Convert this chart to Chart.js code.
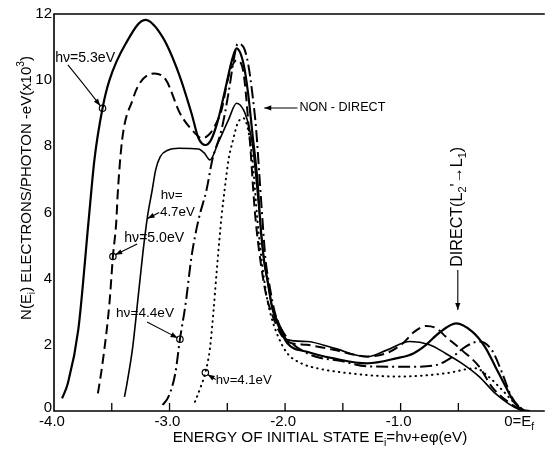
<!DOCTYPE html>
<html>
<head>
<meta charset="utf-8">
<script src="https://cdn.jsdelivr.net/npm/chart.js@4/dist/chart.umd.min.js"></script>
<style>
html,body{margin:0;padding:0;background:#fff;}
canvas{display:block;}
</style>
</head>
<body>
<canvas id="c" width="550" height="453"></canvas>
<script>
// ---- data (x: energy of initial state, eV; y: N(Ei), electrons/photon-eV x10^3) ----
const energy53 = [-3.93,-3.88,-3.79,-3.70,-3.65,-3.58,-3.52,-3.38,-3.21,-3.06,-2.92,-2.81,-2.75,-2.69,-2.64,-2.58,-2.51,-2.46,-2.42,-2.36,-2.32,-2.28,-2.24,-2.21,-2.18,-2.15,-2.11,-2.06,-1.98,-1.81,-1.58,-1.29,-1.04,-0.89,-0.78,-0.67,-0.52,-0.38,-0.27,-0.18,-0.09,-0.01,0.06,0.12];
const yield53  = [0.38,0.84,2.45,5.77,7.6,9.15,10.0,11.1,11.82,11.3,10.2,9.0,8.25,8.04,8.2,8.8,9.85,10.6,10.96,10.5,9.6,8.3,7.0,5.5,4.5,3.9,3.1,2.6,2.05,1.79,1.59,1.44,1.59,1.74,2.0,2.35,2.65,2.4,1.94,1.34,0.73,0.23,0.03,0];

const energy50 = [-3.62,-3.58,-3.52,-3.49,-3.46,-3.45,-3.41,-3.32,-3.26,-3.13,-3.03,-2.91,-2.78,-2.72,-2.66,-2.61,-2.55,-2.49,-2.42,-2.37,-2.31,-2.26,-2.21,-2.16,-2.11,-2.05,-1.98,-1.81,-1.58,-1.29,-1.12,-0.98,-0.88,-0.78,-0.69,-0.61,-0.47,-0.32,-0.21,-0.09,0.02,0.08];
const yield50  = [0.53,1.44,3.26,4.67,5.77,6.48,8.2,9.4,9.9,10.2,10.0,9.0,8.4,8.24,8.35,8.6,9.1,10.1,10.6,10.4,8.4,5.97,4.46,3.45,2.9,2.4,2.1,2.0,1.85,1.65,1.75,2.05,2.4,2.57,2.5,2.25,1.84,1.34,0.73,0.33,0.08,0];

const energy47 = [-3.39,-3.37,-3.32,-3.27,-3.23,-3.19,-3.15,-3.12,-3.08,-3.01,-2.92,-2.75,-2.70,-2.65,-2.58,-2.49,-2.42,-2.36,-2.32,-2.28,-2.25,-2.21,-2.18,-2.15,-2.11,-2.06,-1.98,-1.81,-1.58,-1.29,-1.12,-0.92,-0.75,-0.61,-0.47,-0.32,-0.18,-0.07,0.03,0.09];
const yield47  = [0.43,0.8,1.9,3.5,4.8,5.9,6.68,7.29,7.69,7.89,7.94,7.92,7.8,7.59,8.1,8.8,9.3,9.1,8.7,8.0,7.0,5.5,4.5,3.9,3.1,2.7,2.15,2.1,1.9,1.64,1.84,2.1,2.0,1.74,1.44,1.04,0.53,0.23,0.04,0];

const energy44 = [-3.06,-3.01,-2.95,-2.91,-2.86,-2.81,-2.75,-2.68,-2.63,-2.55,-2.49,-2.44,-2.41,-2.36,-2.32,-2.28,-2.25,-2.22,-2.19,-2.17,-2.13,-2.09,-2.02,-1.81,-1.50,-1.29,-1.04,-0.87,-0.69,-0.55,-0.44,-0.32,-0.21,-0.12,-0.04,0.05,0.09];
const yield44  = [0.18,0.43,1.14,2.17,3.26,4.66,5.77,6.68,7.59,8.5,9.6,10.7,11.1,11.0,10.5,9.5,8.5,7.0,5.5,4.6,3.7,3.0,2.4,1.75,1.5,1.35,1.34,1.34,1.39,1.64,1.94,2.1,1.84,1.14,0.43,0.06,0];

const energy41 = [-2.78,-2.73,-2.69,-2.65,-2.62,-2.59,-2.55,-2.52,-2.49,-2.45,-2.41,-2.36,-2.32,-2.28,-2.24,-2.19,-2.15,-2.12,-2.06,-1.98,-1.86,-1.72,-1.44,-1.01,-0.61,-0.35,-0.24,-0.12,-0.01,0.08];
const yield41  = [0.28,0.73,1.16,1.9,3.0,4.3,5.87,6.78,7.59,8.2,8.7,8.85,8.5,7.5,5.8,4.2,3.3,2.85,2.25,1.74,1.44,1.29,1.14,1.04,1.14,1.29,1.04,0.63,0.23,0];

// open-circle markers where the labels point
const markerEnergy = [-3.58,-3.49,-2.91,-2.69];
const markerYield  = [9.15,4.67,2.17,1.16];

// axis ticks
const xMajorTicks = [-4,-3,-2,-1];
const xMajorLabels = ['-4.0','-3.0','-2.0','-1.0'];
const xMinorTicks = [-3.5,-3,-2.5,-2,-1.5,-1,-0.5];
const yTicks = [0,2,4,6,8,10,12];

const FONT = '"Liberation Sans", Arial, Helvetica, sans-serif';

function pts(xs, ys){ return xs.map((x,i)=>({x:x, y:ys[i]})); }

function richWidth(ctx, parts, size){
  let w = 0;
  for (const p of parts){
    const s = p[1] ? size*0.68 : size;
    ctx.font = s + 'px ' + FONT;
    w += ctx.measureText(p[0]).width;
  }
  return w;
}
function drawRich(ctx, parts, x, y, o){
  let size = o.size;
  if (o.width){ size = size * o.width / richWidth(ctx, parts, size); }
  const w = richWidth(ctx, parts, size);
  ctx.save();
  ctx.translate(x, y);
  if (o.rotate) ctx.rotate(o.rotate);
  let cx = o.align === 'center' ? -w/2 : (o.align === 'right' ? -w : 0);
  ctx.textBaseline = 'middle';
  ctx.textAlign = 'left';
  ctx.fillStyle = '#000';
  for (const p of parts){
    const s = p[1] ? size*0.68 : size;
    ctx.font = s + 'px ' + FONT;
    const dy = p[1] === 'sub' ? size*0.32 : (p[1] === 'sup' ? -size*0.38 : 0);
    ctx.fillText(p[0], cx, dy);
    cx += ctx.measureText(p[0]).width;
  }
  ctx.restore();
}
function arrowHead(ctx, x1, y1, x2, y2, len, wid){
  const a = Math.atan2(y2-y1, x2-x1);
  ctx.beginPath();
  ctx.moveTo(x2, y2);
  ctx.lineTo(x2 - len*Math.cos(a) + wid*Math.sin(a), y2 - len*Math.sin(a) - wid*Math.cos(a));
  ctx.lineTo(x2 - len*Math.cos(a) - wid*Math.sin(a), y2 - len*Math.sin(a) + wid*Math.cos(a));
  ctx.closePath();
  ctx.fill();
}
function arrow(ctx, x1, y1, x2, y2, cpx, cpy){
  ctx.beginPath();
  ctx.moveTo(x1, y1);
  if (cpx !== undefined) ctx.quadraticCurveTo(cpx, cpy, x2, y2); else ctx.lineTo(x2, y2);
  ctx.stroke();
  if (cpx !== undefined) arrowHead(ctx, cpx, cpy, x2, y2, 7, 2.6);
  else arrowHead(ctx, x1, y1, x2, y2, 7, 2.6);
}

const framePlugin = {
  id: 'frame',
  afterDraw(chart){
    const ctx = chart.ctx, a = chart.chartArea, X = chart.scales.x, Y = chart.scales.y;
    const px = v => X.getPixelForValue(v), py = v => Y.getPixelForValue(v);
    ctx.save();
    ctx.strokeStyle = '#000';
    ctx.fillStyle = '#000';
    ctx.lineWidth = 1.6;
    ctx.beginPath();
    ctx.moveTo(a.right, a.top); ctx.lineTo(a.left, a.top);
    ctx.lineTo(a.left, a.bottom); ctx.lineTo(a.right, a.bottom);
    ctx.stroke();
    // inward ticks on the energy axis
    ctx.lineWidth = 1.3;
    for (const t of xMinorTicks){
      ctx.beginPath(); ctx.moveTo(px(t), a.bottom); ctx.lineTo(px(t), a.bottom - 8); ctx.stroke();
    }
    // tick labels
    ctx.font = '15px ' + FONT;
    ctx.textBaseline = 'middle';
    ctx.textAlign = 'right';
    for (const t of yTicks){ ctx.fillText(String(t), a.left - 2, py(t) - (t === 0 ? 3 : 0)); }
    ctx.textAlign = 'center';
    xMajorTicks.forEach((t,i)=>{ ctx.fillText(xMajorLabels[i], px(t) - 2, a.bottom + 11); });
    drawRich(ctx, [['0=E'],['f','sub']], px(0) - 12, a.bottom + 11, {size:15, align:'left'});
    // axis titles
    drawRich(ctx, [['ENERGY OF INITIAL STATE E'],['i','sub'],['=h\u03bd+e\u03c6(eV)']], 320, 438, {size:15, width:295, align:'center'});
    drawRich(ctx, [['N(E'],['i','sub'],[') ELECTRONS/PHOTON -eV(x10'],['3','sup'],[')']], 27, 188, {size:15, width:264, align:'center', rotate:-Math.PI/2});

    // annotations (positions in data units)
    ctx.lineWidth = 1.1;
    drawRich(ctx, [['h\u03bd=5.3eV']], px(-3.99), py(10.67), {size:14, width:60, align:'left'});
    arrow(ctx, px(-3.88), py(10.46), px(-3.60), py(9.23), px(-3.76), py(9.95));

    drawRich(ctx, [['NON - DIRECT']], px(-1.876), py(9.16), {size:14, width:86, align:'left'});
    arrow(ctx, px(-1.893), py(9.16), px(-2.18), py(9.16));

    drawRich(ctx, [['DIRECT(L'],['2','sub'],['\'\u2192L'],['1','sub'],[')']], px(-0.505), py(6.17), {size:15, width:120, align:'center', rotate:-Math.PI/2});
    arrow(ctx, px(-0.505), py(4.26), px(-0.505), py(3.05));

    drawRich(ctx, [['h\u03bd=']], px(-3.077), py(6.53), {size:14, width:22, align:'left'});
    drawRich(ctx, [['4.7eV']], px(-3.083), py(6.02), {size:14, width:35, align:'left'});
    arrow(ctx, px(-3.09), py(6.0), px(-3.19), py(5.82));

    drawRich(ctx, [['h\u03bd=5.0eV']], px(-3.392), py(5.22), {size:14, width:60, align:'left'});
    arrow(ctx, px(-3.28), py(5.05), px(-3.47), py(4.72));

    drawRich(ctx, [['h\u03bd=4.4eV']], px(-3.463), py(2.95), {size:14, width:58, align:'left'});
    arrow(ctx, px(-3.195), py(2.69), px(-2.93), py(2.21));

    drawRich(ctx, [['h\u03bd=4.1eV']], px(-2.60), py(0.94), {size:14, width:56, align:'left'});
    arrow(ctx, px(-2.60), py(0.95), px(-2.67), py(1.1));
    ctx.restore();
  }
};

const common = { pointRadius:0, fill:false, borderColor:'#000', cubicInterpolationMode:'monotone', borderJoinStyle:'round' };

new Chart(document.getElementById('c').getContext('2d'), {
  type: 'line',
  data: {
    datasets: [
      Object.assign({label:'h\u03bd=5.3eV', data:pts(energy53, yield53), borderWidth:2.2}, common),
      Object.assign({label:'h\u03bd=5.0eV', data:pts(energy50, yield50), borderWidth:2, borderDash:[10,5]}, common),
      Object.assign({label:'h\u03bd=4.7eV', data:pts(energy47, yield47), borderWidth:1.6}, common),
      Object.assign({label:'h\u03bd=4.4eV', data:pts(energy44, yield44), borderWidth:2, borderDash:[12,4,2,4]}, common),
      Object.assign({label:'h\u03bd=4.1eV', data:pts(energy41, yield41), borderWidth:2, borderDash:[0.5,5], borderCapStyle:'round'}, common),
      {label:'markers', type:'scatter', data:pts(markerEnergy, markerYield), pointRadius:3.2, pointBackgroundColor:'#fff', pointBorderColor:'#000', pointBorderWidth:1.2, showLine:false}
    ]
  },
  options: {
    responsive: false,
    animation: false,
    layout: { padding: { left:54, right:0, top:14, bottom:42 } },
    scales: {
      x: { type:'linear', min:-4, max:0.248, display:false },
      y: { type:'linear', min:0, max:12, display:false }
    },
    plugins: { legend:{display:false}, tooltip:{enabled:false} }
  },
  plugins: [framePlugin]
});
</script>
</body>
</html>
